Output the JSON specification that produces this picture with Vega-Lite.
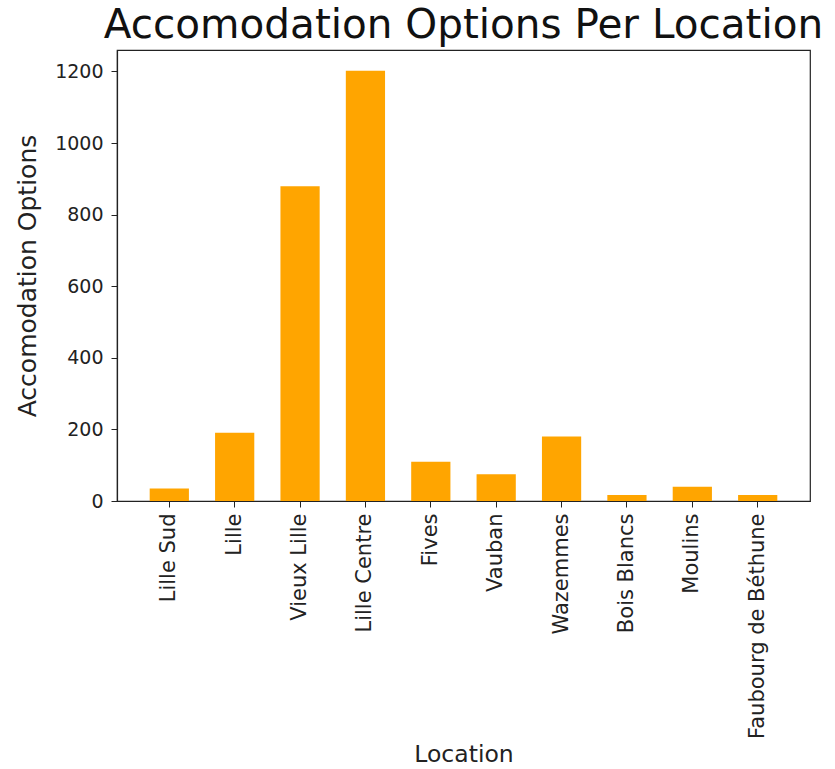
{
  "$schema": "https://vega.github.io/schema/vega-lite/v6.json",
  "autosize": "none",
  "width": 693,
  "height": 451,
  "padding": {"left": 117, "top": 50, "right": 25, "bottom": 268},
  "background": "white",
  "config": {
    "font": "DejaVu Sans",
    "view": {"stroke": "#222", "strokeWidth": 1.2},
    "axis": {"grid": false, "domainColor": "#222", "tickColor": "#222", "labelColor": "#222", "titleColor": "#222", "titleFontWeight": "normal", "labelFont": "DejaVu Sans", "titleFont": "DejaVu Sans"}
  },
  "title": {"text": "Accomodation Options Per Location", "fontSize": 40.5, "fontWeight": "normal", "font": "DejaVu Sans", "color": "#111", "anchor": "middle", "offset": 4, "frame": "group"},
  "data": {"values": [
    {"Location": "Lille Sud", "Count": 35},
    {"Location": "Lille", "Count": 191},
    {"Location": "Vieux Lille", "Count": 879},
    {"Location": "Lille Centre", "Count": 1202},
    {"Location": "Fives", "Count": 110},
    {"Location": "Vauban", "Count": 75},
    {"Location": "Wazemmes", "Count": 180},
    {"Location": "Bois Blancs", "Count": 17},
    {"Location": "Moulins", "Count": 40},
    {"Location": "Faubourg de Béthune", "Count": 17}
  ]},
  "mark": {"type": "bar", "color": "#FFA500"},
  "encoding": {
    "x": {
      "field": "Location", "type": "nominal", "sort": null,
      "scale": {"paddingInner": 0.4, "paddingOuter": 0.5},
      "axis": {"title": "Location", "labelAngle": -90, "labelFontSize": 21, "labelLimit": 400, "titleFontSize": 23.5, "tickSize": 6, "labelPadding": 6, "titlePadding": 41, "domainWidth": 1.2}
    },
    "y": {
      "field": "Count", "type": "quantitative",
      "scale": {"domain": [0, 1260], "nice": false},
      "axis": {"title": "Accomodation Options", "format": "d", "values": [0, 200, 400, 600, 800, 1000, 1200], "labelFontSize": 19, "titleFontSize": 25, "tickSize": 6, "labelPadding": 8, "titlePadding": 14, "domainWidth": 1.2}
    }
  }
}
